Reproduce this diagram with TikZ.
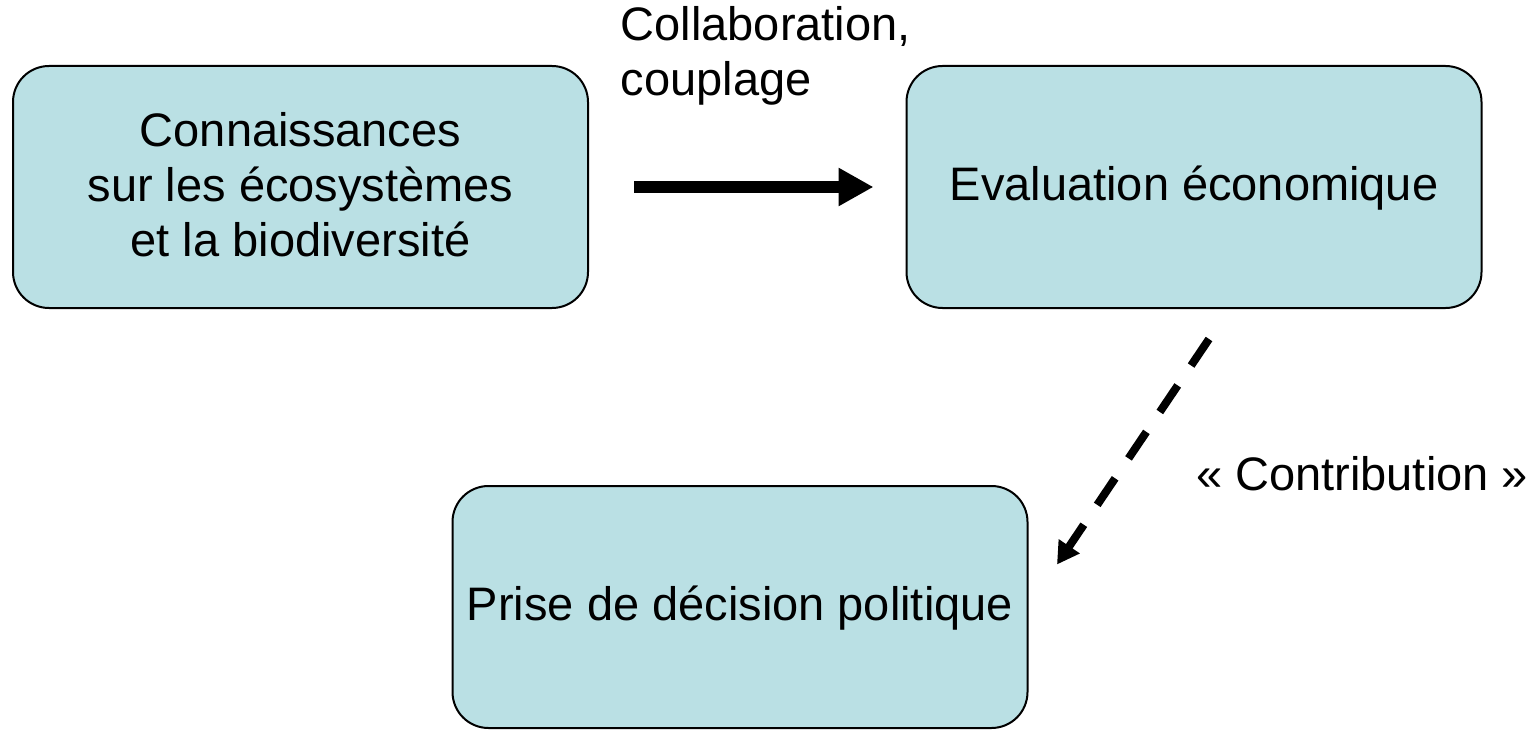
\documentclass[tikz,border=0pt]{standalone}
\usepackage{fontspec}
\setmainfont{Liberation Sans}
\usetikzlibrary{arrows.meta}
\definecolor{bleuvert}{RGB}{186,224,228}
\def\linestrut{\rule[-0.17em]{0pt}{0.95em}}
\tikzset{
	bloc/.style={draw=black, line width=2pt, fill=bleuvert, rounded corners=36pt, minimum width=575pt, minimum height=242pt, align=center, inner sep=0pt},
	fleche/.style={line width=11.5pt, -{Triangle[length=35pt, width=36pt]}},
	flechetirets/.style={line width=8pt, dash pattern=on 32pt off 24pt, -{Triangle[length=22pt, width=24pt]}}
}

\begin{document}
\begin{tikzpicture}[x=1pt, y=-1pt, font=\fontsize{47}{55}\selectfont]
		%%%%% START %%%%%
		
		\useasboundingbox (0, 0) rectangle (1536, 730);
		
		\node[bloc] (conn) at (300.5, 187) {\linestrut Connaissances\\sur les écosystèmes\\et la biodiversité\linestrut};
		\node[bloc] (evalu) at (1194, 187) {\linestrut Evaluation économique\linestrut};
		\node[bloc] (prise) at (740, 607) {\linestrut Prise de décision politique\linestrut};
		
		\node[anchor=north west, inner sep=0pt, align=left] (collab) at (620.5, 3.4) {\linestrut Collaboration,\\couplage};
		\draw[fleche, shorten <=45pt, shorten >=32pt] (conn.east) -- (evalu.west);
		
		\coordinate (contribdebut) at (1209, 339);
		\coordinate (contribfin) at (1057, 564.5);
		\draw[flechetirets] (contribdebut) -- (contribfin);
		\node[anchor=base west, inner sep=0pt] (contrib) at (1196, 490) {«~Contribution~»};
		
		%%%%% END %%%%%
	\end{tikzpicture}
\end{document}
